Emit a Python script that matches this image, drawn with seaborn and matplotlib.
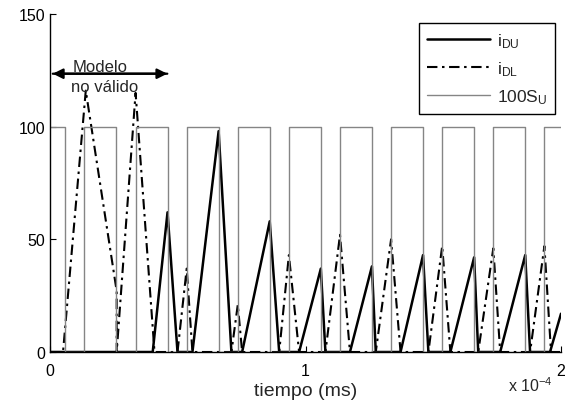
import numpy as np
import pandas as pd
import matplotlib
matplotlib.use("Agg")
import matplotlib.pyplot as plt
import seaborn as sns

# ---- data (time in microseconds) ----
t_du_us = [0, 40.2, 46, 49.9, 55.75, 66, 71.0, 75.2, 86, 89.7, 97.5, 106, 107.8,
           117.4, 126, 127.5, 137.2, 146, 148.1, 156.7, 166, 167.6, 176.2, 186,
           187.9, 195.7, 200]
i_du = [0, 0, 62, 0, 0, 98, 0, 0, 58, 0, 0, 37, 0, 0, 38, 0, 0, 43, 0, 0, 42, 0,
        0, 43, 0, 0, 17]

t_dl_us = [0, 5.1, 14.0, 26.1, 26.1, 33.5, 40.9, 49.9, 53.5, 55.75, 71.0, 73.5,
           75.2, 89.7, 93.5, 97.5, 107.8, 113.5, 117.4, 127.5, 133.5, 137.2, 148.1,
           153.5, 156.7, 167.6, 173.5, 176.2, 187.9, 193.5, 196.1, 200]
i_dl = [0, 0, 116, 27, 0, 115, 0, 0, 37, 0, 0, 21, 0, 0, 43, 0, 0, 52, 0, 0, 50, 0,
        0, 47, 0, 0, 46, 0, 0, 47, 0, 0]

t_su_us = [0, 6, 13.5, 26, 33.5, 46, 53.5, 66, 73.5, 86, 93.5, 106, 113.5, 126,
           133.5, 146, 153.5, 166, 173.5, 186, 193.5, 200]
s_u = [1, 0, 1, 0, 1, 0, 1, 0, 1, 0, 1, 0, 1, 0, 1, 0, 1, 0, 1, 0, 1, 1]

labels = [r"$\mathregular{i_{DU}}$", r"$\mathregular{i_{DL}}$", r"$\mathregular{100S_U}$"]
y_ticks = [0, 50, 100, 150]

df_du = pd.DataFrame({"t": np.array(t_du_us) * 1e-6, "v": i_du})
df_dl = pd.DataFrame({"t": np.array(t_dl_us) * 1e-6, "v": i_dl})
df_su = pd.DataFrame({"t": np.array(t_su_us) * 1e-6, "v": np.array(s_u) * 100})

sns.set_style("ticks")
plt.rcParams["font.family"] = ["Liberation Sans", "DejaVu Sans"]
plt.rcParams["mathtext.default"] = "regular"

fig = plt.figure(figsize=(5.66, 4.02), dpi=100)
ax = fig.add_axes([50 / 566, 49 / 402, 511 / 566, 338 / 402])

sns.lineplot(data=df_du, x="t", y="v", ax=ax, estimator=None, sort=False,
             color="black", linewidth=1.8, label=labels[0])
sns.lineplot(data=df_dl, x="t", y="v", ax=ax, estimator=None, sort=False,
             color="black", linewidth=1.5, label=labels[1],
             dashes=False, linestyle=(0, (5, 2.2, 1.2, 2.2)))
sns.lineplot(data=df_su, x="t", y="v", ax=ax, estimator=None, sort=False,
             color="#858585", linewidth=1.0, label=labels[2],
             drawstyle="steps-post")

ax.set_xlim(0, 2e-4)
ax.set_ylim(0, 150)
ax.set_yticks(y_ticks)
ax.set_xticks([0, 1e-4, 2e-4])
ax.ticklabel_format(axis="x", style="sci", scilimits=(0, 0), useMathText=True)
ax.xaxis.get_offset_text().set_visible(False)
fig.text(553 / 566, 1 - 386 / 402, r"x 10$^{-4}$", fontsize=11.5,
         ha="right", va="center")

for s in ["top", "right"]:
    ax.spines[s].set_visible(False)
for s in ["left", "bottom"]:
    ax.spines[s].set_linewidth(1.0)
    ax.spines[s].set_color("black")

ax.tick_params(axis="both", direction="in", length=4, width=0.8, labelsize=11.5,
               colors="black")
ax.tick_params(axis="x", pad=7)
ax.set_xlabel("tiempo (ms)", fontsize=14, labelpad=3)
ax.set_ylabel("")

# "Modelo no válido" annotation
ax.annotate("", xy=(0, 123.5), xytext=(47e-6, 123.5),
            arrowprops=dict(arrowstyle="-|>", color="black", lw=1.6,
                            mutation_scale=15))
ax.annotate("", xy=(47e-6, 123.5), xytext=(0, 123.5),
            arrowprops=dict(arrowstyle="-|>", color="black", lw=1.6,
                            mutation_scale=15))
ax.text(19.5e-6, 126.5, "Modelo", fontsize=12, ha="center", va="center")
ax.text(21.5e-6, 118.0, "no válido", fontsize=12, ha="center", va="center")

leg = ax.legend(loc="upper right", bbox_to_anchor=(0.988, 0.973), borderaxespad=0,
                fontsize=12.5, frameon=True, fancybox=False, handlelength=3.6,
                labelspacing=0.55, borderpad=0.45, handletextpad=0.4)
leg.get_frame().set_edgecolor("black")
leg.get_frame().set_linewidth(1.0)
leg.get_frame().set_alpha(1)

fig.savefig("out.png", dpi=100)
